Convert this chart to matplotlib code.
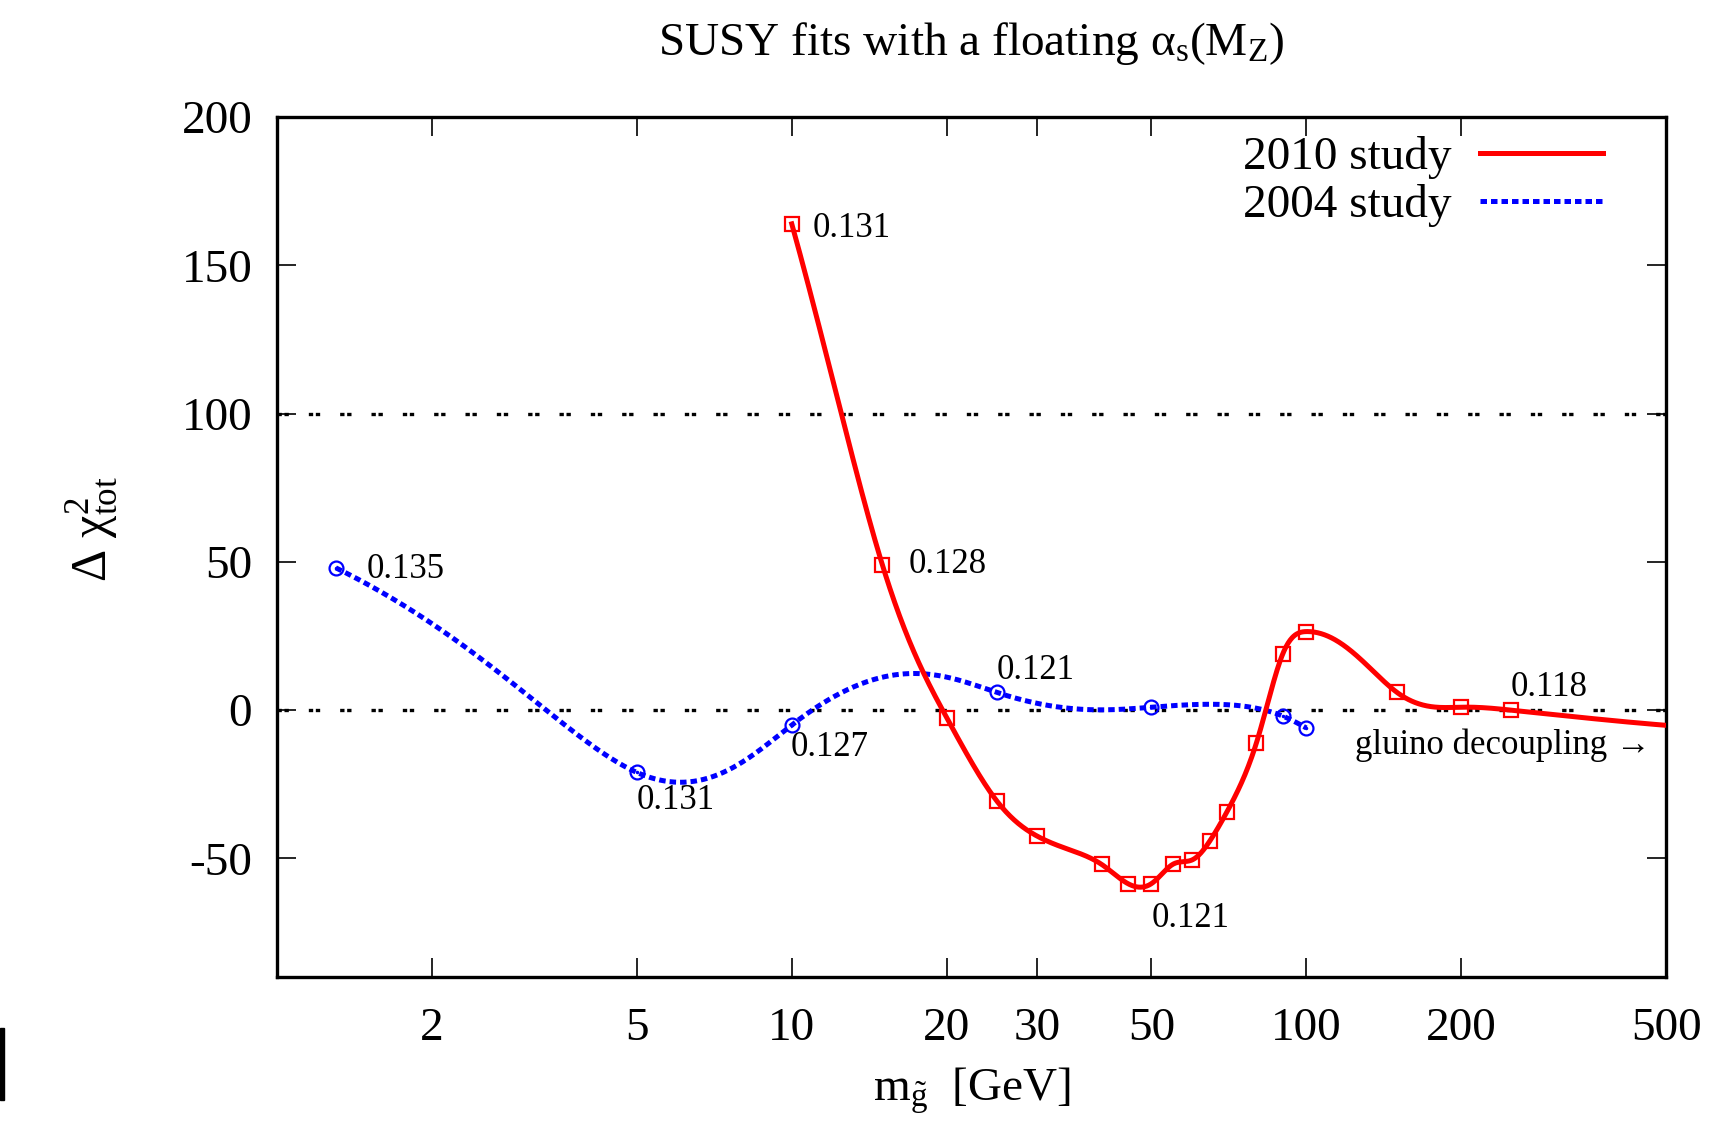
import numpy as np
import matplotlib
matplotlib.use("Agg")
import matplotlib.pyplot as plt
from matplotlib.lines import Line2D
from matplotlib.patches import Rectangle

plt.rcParams["font.family"] = ["Liberation Serif", "DejaVu Serif"]
plt.rcParams["mathtext.fontset"] = "custom"
plt.rcParams["mathtext.rm"] = "Liberation Serif"
plt.rcParams["mathtext.it"] = "Liberation Serif:italic"

# gluino mass [GeV] and delta chi^2 of the fits
mass_2010 = [10, 15, 20, 25, 30, 40, 45, 50, 55, 60, 65, 70, 80, 90, 100, 150, 200, 250, 1000]
chi2_2010 = [164, 49, -2.5, -30.5, -42.5, -52, -58.5, -58.5, -52, -50.5, -44, -34.5,
             -11, 19, 26.5, 6, 1, 0, -7.5]
mass_2004 = [1.3, 5, 10, 25, 50, 90, 100]
chi2_2004 = [48, -21, -5, 6, 1, -2, -6]

# fitted alpha_s(M_Z) quoted next to some points: (mass, text)
alphas_2010 = [(10, "0.131"), (15, "0.128"), (50, "0.121"), (250, "0.118")]
alphas_2004 = [(1.3, "0.135"), (5, "0.131"), (10, "0.127"), (25, "0.121")]

x_ticks = [2, 5, 10, 20, 30, 50, 100, 200, 500]
y_ticks = [-50, 0, 50, 100, 150, 200]


def natural_spline(x, y, n=600, p=0.8):
    # natural cubic spline in the variable t = x**p
    x = np.asarray(x, float)
    y = np.asarray(y, float)
    t = x ** p
    k = len(t)
    h = np.diff(t)
    A = np.zeros((k, k))
    b = np.zeros(k)
    A[0, 0] = A[-1, -1] = 1
    for i in range(1, k - 1):
        A[i, i - 1] = h[i - 1]
        A[i, i] = 2 * (h[i - 1] + h[i])
        A[i, i + 1] = h[i]
        b[i] = 3 * ((y[i + 1] - y[i]) / h[i] - (y[i] - y[i - 1]) / h[i - 1])
    c = np.linalg.solve(A, b)
    bb = (y[1:] - y[:-1]) / h - h * (2 * c[:-1] + c[1:]) / 3
    d = (c[1:] - c[:-1]) / (3 * h)
    xs = np.geomspace(x[0], x[-1], n)
    ts = xs ** p
    idx = np.clip(np.searchsorted(t, ts) - 1, 0, k - 2)
    dt = ts - t[idx]
    ys = y[idx] + bb[idx] * dt + c[idx] * dt ** 2 + d[idx] * dt ** 3
    return xs, ys


fig = plt.figure(figsize=(17.11, 11.26), dpi=100)
ax = fig.add_axes([0.162, 0.1323, 0.8117, 0.7637])

dots = (0, (1.3, 0.8, 1.3, 6.0))
ax.axhline(0, color="black", lw=2.4, linestyle=dots, zorder=1)
ax.axhline(100, color="black", lw=2.4, linestyle=dots, zorder=1)

# 2004 study (smooth cubic spline)
sx, sy = natural_spline(mass_2004, chi2_2004)
ax.plot(sx, sy, color="blue", lw=3.6, linestyle=(0, (1.3, 0.8)), zorder=2)
ax.plot(mass_2004, chi2_2004, "o", ms=10, mfc="none", mec="blue", mew=1.6, zorder=4)
ax.plot(mass_2004, chi2_2004, ".", ms=3, color="blue", zorder=4)

# 2010 study
sx, sy = natural_spline(mass_2010, chi2_2010, n=1500)
ax.plot(sx, sy, color="red", lw=3.6, zorder=3)
ax.plot(mass_2010, chi2_2010, "s", ms=10, mfc="none", mec="red", mew=1.6, zorder=5)

fs_note = 25
d10 = dict(zip(mass_2010, chi2_2010))
d04 = dict(zip(mass_2004, chi2_2004))
offsets_2010 = {10: (15, -3, "left", "center"), 15: (19, 0, "left", "center"),
                50: (0, -25, "left", "center"), 250: (0, 16, "left", "center")}
offsets_2004 = {1.3: (22, -1, "left", "center"), 5: (0, -20, "left", "center"),
                10: (-1, -16, "left", "center"), 25: (0, 16, "left", "center")}
for m, txt in alphas_2010:
    dx, dy, ha, va = offsets_2010[m]
    ax.annotate(txt, (m, d10[m]), xytext=(dx, dy), textcoords="offset points",
                ha=ha, va=va, fontsize=fs_note)
for m, txt in alphas_2004:
    dx, dy, ha, va = offsets_2004[m]
    ax.annotate(txt, (m, d04[m]), xytext=(dx, dy), textcoords="offset points",
                ha=ha, va=va, fontsize=fs_note)
ax.text(467, -12, "gluino decoupling \u2192", ha="right", va="center", fontsize=fs_note)

ax.set_xscale("log")
ax.set_xlim(1, 500)
ax.set_ylim(-90, 200)
ax.set_xticks(x_ticks)
ax.set_xticklabels([str(t) for t in x_ticks])
ax.xaxis.set_minor_locator(matplotlib.ticker.NullLocator())
ax.set_yticks(y_ticks)
ax.set_yticklabels([str(t) for t in y_ticks])
ax.tick_params(direction="in", length=14, width=1.2, labelsize=34,
               top=True, right=True)
ax.tick_params(axis="x", pad=22)
ax.tick_params(axis="y", pad=18)
for sp in ax.spines.values():
    sp.set_linewidth(2.4)

handles = [Line2D([], [], color="red", lw=3.6),
           Line2D([], [], color="blue", lw=3.6, linestyle=(0, (1.3, 0.8)))]
ax.legend(handles, ["2010 study", "2004 study"], loc="upper right",
          bbox_to_anchor=(0.985, 1.027), frameon=False, markerfirst=False,
          fontsize=34, handlelength=2.6, handletextpad=0.6, labelspacing=0.1)

fig.text(0.5678, 0.961, "SUSY fits with a floating \u03b1$_{\\rm s}$(M$_{\\rm Z}$)",
         ha="center", va="center", fontsize=34)
fig.text(0.5678, 0.031, "m$_{\\tilde{\\rm g}}$  [GeV]", ha="center", va="center",
         fontsize=34)
fig.text(0.054, 0.53, "\u0394 \u03c7$^{2}_{\\rm tot}$", rotation=90,
         ha="center", va="center", fontsize=36)

fig.patches.append(Rectangle((0, 0.0231), 0.0024, 0.064, transform=fig.transFigure,
                             color="black", figure=fig))

fig.savefig("out.png", dpi=100)
